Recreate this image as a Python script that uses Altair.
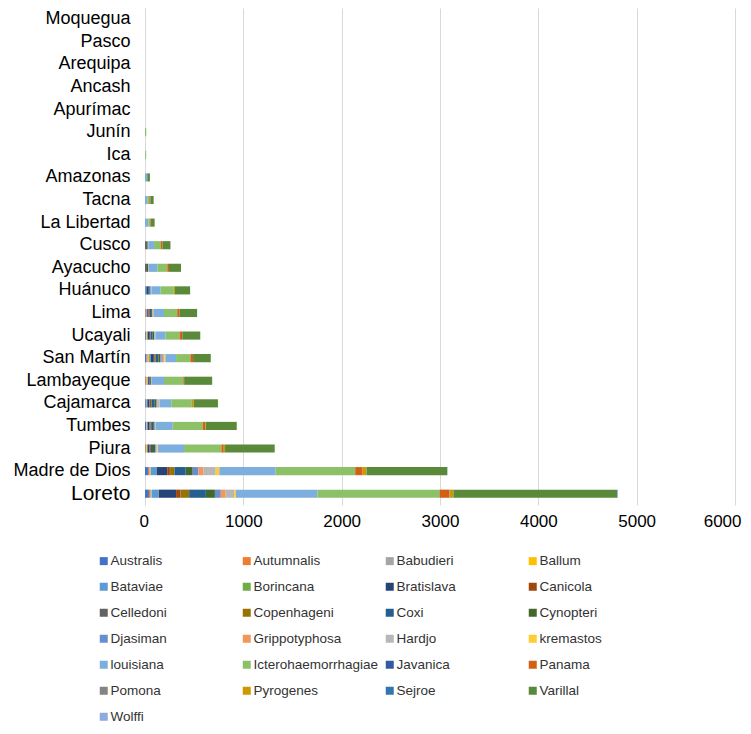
import altair as alt
import pandas as pd

regions = ["Moquegua", "Pasco", "Arequipa", "Ancash", "Apurímac", "Junín", "Ica",
           "Amazonas", "Tacna", "La Libertad", "Cusco", "Ayacucho", "Huánuco", "Lima",
           "Ucayali", "San Martín", "Lambayeque", "Cajamarca", "Tumbes", "Piura",
           "Madre de Dios", "Loreto"]

serovars = ["Australis", "Autumnalis", "Babudieri", "Ballum", "Bataviae", "Borincana",
            "Bratislava", "Canicola", "Celledoni", "Copenhageni", "Coxi", "Cynopteri",
            "Djasiman", "Grippotyphosa", "Hardjo", "kremastos", "louisiana",
            "Icterohaemorrhagiae", "Javanica", "Panama", "Pomona", "Pyrogenes", "Sejroe",
            "Varillal", "Wolffi"]

colors = ["#4472C4", "#ED7D31", "#A5A5A5", "#FFC000", "#5B9BD5", "#70AD47", "#264478",
          "#9E480E", "#636363", "#997300", "#255E91", "#43682B", "#698ED0", "#F1975A",
          "#B7B7B7", "#FFCD33", "#7CAFDD", "#8CC168", "#335AA1", "#D26012", "#848484",
          "#CC9A00", "#3276B1", "#5A8A39", "#8FAADC"]

# values per serovar, in region order (Moquegua ... Loreto)
australis     = [0, 0, 0, 0, 0, 0, 0, 0, 0, 0, 0, 0, 6, 5, 8, 15, 6, 8, 10, 5, 30, 40]
autumnalis    = [0, 0, 0, 0, 0, 0, 0, 0, 0, 0, 0, 0, 0, 10, 5, 10, 10, 3, 3, 5, 15, 13]
babudieri     = [0, 0, 0, 0, 0, 0, 0, 0, 0, 0, 0, 0, 0, 0, 0, 5, 0, 0, 3, 3, 10, 10]
ballum        = [0, 0, 0, 0, 0, 0, 0, 0, 0, 0, 0, 0, 0, 0, 8, 12, 10, 3, 3, 8, 3, 5]
bataviae      = [0, 0, 0, 0, 0, 0, 0, 6, 0, 0, 0, 0, 8, 8, 8, 18, 6, 10, 8, 5, 58, 68]
borincana     = [0, 0, 0, 0, 0, 0, 0, 0, 0, 0, 0, 0, 0, 0, 0, 0, 0, 0, 0, 0, 2, 3]
bratislava    = [0, 0, 0, 0, 0, 0, 0, 0, 0, 0, 0, 0, 18, 12, 20, 30, 15, 20, 18, 20, 108, 177]
canicola      = [0, 0, 0, 0, 0, 0, 0, 0, 0, 0, 0, 0, 0, 12, 5, 8, 4, 5, 5, 5, 27, 45]
celledoni     = [0, 0, 0, 0, 0, 0, 0, 0, 0, 0, 20, 20, 0, 0, 6, 5, 0, 12, 8, 0, 2, 3]
copenhageni   = [0, 0, 0, 0, 0, 0, 0, 0, 0, 0, 0, 0, 0, 0, 0, 8, 0, 8, 5, 10, 44, 85]
coxi          = [0, 0, 0, 0, 0, 0, 0, 0, 0, 0, 0, 0, 15, 15, 18, 25, 8, 30, 20, 20, 115, 170]
cynopteri     = [0, 0, 0, 0, 0, 0, 0, 0, 0, 0, 8, 12, 8, 10, 15, 20, 5, 18, 12, 25, 71, 92]
djasiman      = [0, 0, 0, 0, 0, 0, 0, 0, 0, 0, 0, 0, 5, 5, 5, 15, 0, 8, 6, 5, 58, 60]
grippotyphosa = [0, 0, 0, 0, 0, 0, 0, 0, 0, 0, 0, 0, 0, 6, 0, 12, 0, 5, 3, 5, 51, 50]
hardjo        = [0, 0, 0, 0, 0, 0, 0, 0, 0, 0, 6, 8, 7, 8, 10, 15, 4, 15, 8, 12, 125, 85]
kremastos     = [0, 0, 0, 0, 0, 0, 0, 0, 0, 0, 0, 0, 0, 0, 0, 10, 0, 3, 0, 5, 37, 18]
louisiana     = [0, 0, 0, 0, 0, 0, 4, 17, 27, 34, 58, 85, 92, 102, 102, 108, 125, 119, 170, 264, 573, 830]
ictero        = [0, 0, 0, 0, 0, 13, 8, 0, 17, 20, 68, 102, 135, 135, 142, 146, 193, 207, 305, 380, 807, 1240]
javanica      = [0, 0, 0, 0, 0, 0, 0, 0, 0, 0, 0, 0, 0, 0, 0, 0, 0, 0, 0, 0, 2, 3]
panama        = [0, 0, 0, 0, 0, 0, 0, 0, 10, 7, 17, 17, 0, 24, 27, 27, 8, 3, 24, 24, 75, 100]
pomona        = [0, 0, 0, 0, 0, 0, 0, 0, 0, 0, 0, 0, 0, 0, 0, 0, 0, 0, 0, 0, 2, 3]
pyrogenes     = [0, 0, 0, 0, 0, 0, 0, 0, 0, 0, 0, 0, 10, 0, 0, 0, 4, 17, 6, 13, 37, 34]
sejroe        = [0, 0, 0, 0, 0, 0, 0, 0, 0, 0, 0, 0, 0, 0, 0, 0, 0, 0, 0, 0, 2, 3]
varillal      = [0, 0, 0, 0, 0, 0, 0, 27, 34, 37, 82, 122, 155, 178, 183, 180, 285, 248, 316, 505, 820, 1665]
wolffi        = [0, 0, 0, 0, 0, 0, 0, 0, 0, 0, 0, 0, 0, 0, 0, 0, 0, 0, 0, 0, 3, 8]

series = [australis, autumnalis, babudieri, ballum, bataviae, borincana, bratislava,
          canicola, celledoni, copenhageni, coxi, cynopteri, djasiman, grippotyphosa,
          hardjo, kremastos, louisiana, ictero, javanica, panama, pomona, pyrogenes,
          sejroe, varillal, wolffi]

x_ticks = [0, 1000, 2000, 3000, 4000, 5000, 6000]

rows = []
for i, (name, vals) in enumerate(zip(serovars, series)):
    for region, v in zip(regions, vals):
        rows.append({"region": region, "serovar": name, "value": v, "idx": i})
df = pd.DataFrame(rows)

chart = alt.Chart(df).mark_bar().encode(
    x=alt.X("value:Q", stack="zero",
            scale=alt.Scale(domain=[0, 6000], nice=False),
            axis=alt.Axis(values=x_ticks, format="d", title=None, grid=True,
                          gridColor="#d9d9d9", gridWidth=1, domain=False, ticks=False,
                          labelFontSize=17, labelFont="Liberation Sans", labelColor="#000",
                          labelPadding=8, labelFlush=True, labelFlushOffset=6,
                          labelOverlap=False)),
    y=alt.Y("region:N", sort=regions,
            scale=alt.Scale(domain=regions, paddingInner=0.64, paddingOuter=0.32),
            axis=alt.Axis(title=None, ticks=False, domain=True, domainColor="#d9d9d9",
                          labelFont="Liberation Sans", labelColor="#000", labelPadding=15,
                          labelFontSize={"condition": {"test": "datum.value == 'Loreto'", "value": 21},
                                         "value": 18})),
    color=alt.Color("serovar:N",
                    scale=alt.Scale(domain=serovars, range=colors),
                    legend=alt.Legend(title=None, orient="none", legendX=-48, legendY=546,
                                      direction="horizontal", columns=4, gridAlign="all",
                                      symbolType="square", symbolSize=64, symbolStrokeWidth=0,
                                      labelFont="Liberation Sans", labelFontSize=13.5,
                                      labelColor="#333", labelOffset=0,
                                      rowPadding=11, columnPadding=4, padding=0, labelLimit=200)),
    order=alt.Order("idx:Q", sort="ascending"),
).properties(
    width=590, height=497,
    padding={"left": 137, "top": 0, "right": 8, "bottom": 219},
    autosize="none",
).configure_view(stroke=None)

chart.save("out.html", embed_options={"renderer": "svg", "actions": False})
